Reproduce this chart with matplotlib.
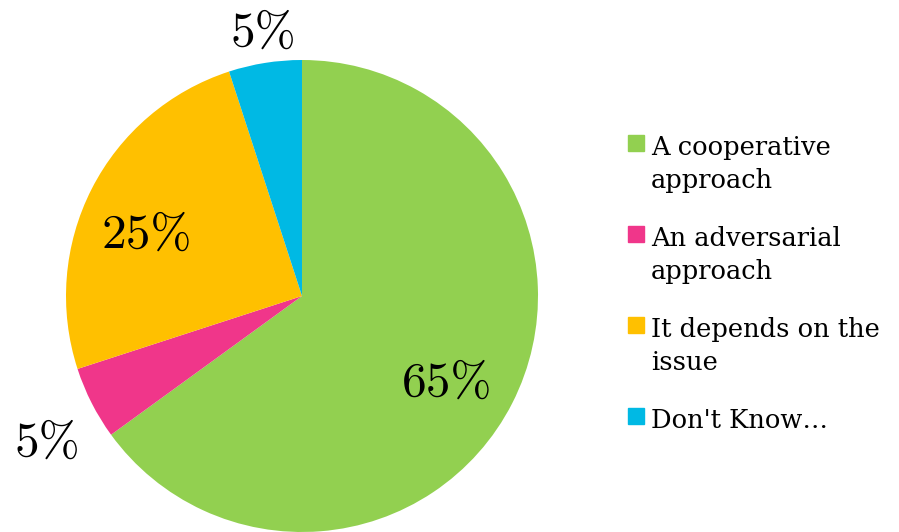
import numpy as np
import matplotlib.pyplot as plt
from matplotlib.patches import Rectangle

# survey answers, share of respondents (%)
labels = ['A cooperative\napproach', 'An adversarial\napproach',
          'It depends on the\nissue', "Don't Know\u2026"]
values = [65, 5, 25, 5]
colors = ['#92D050', '#F0368A', '#FFC000', '#00B9E4']
# where each percentage sits: distance from centre (fraction of radius)
# and a small angular nudge from the wedge's mid angle (degrees)
label_r = [0.71, 1.24, 0.71, 1.14]
label_da = [-3, 2.5, 4.5, -0.7]

fig = plt.figure(figsize=(8.99, 5.32), dpi=100)
W, H = 899, 532
cx, cy, R = 302, 296, 236
ax = fig.add_axes([(cx - R) / W, (H - cy - R) / H, 2 * R / W, 2 * R / H])

wedges, _ = ax.pie(values, colors=colors, startangle=90, counterclock=False,
                   radius=1, wedgeprops=dict(linewidth=0))
ax.set_xlim(-1, 1)
ax.set_ylim(-1, 1)
ax.set_aspect('equal')
ax.axis('off')

# percentage labels, centred on the digits (baseline dropped by half digit height)
half_digit = 16 / R
for w, v, r, da in zip(wedges, values, label_r, label_da):
    ang = np.deg2rad((w.theta1 + w.theta2) / 2 + da)
    ax.text(r * np.cos(ang), r * np.sin(ang) - half_digit, '%d%%' % v,
            ha='center', va='baseline', fontsize=35.5, family='cmr10',
            clip_on=False)

# legend drawn by hand: square swatch + two-line text
top0, step = 135, 91
for i, (lab, col) in enumerate(zip(labels, colors)):
    y = top0 + i * step
    fig.patches.append(Rectangle((628 / W, 1 - (y + 16) / H), 16 / W, 16 / H,
                                 color=col, transform=fig.transFigure))
    fig.text(651 / W, 1 - y / H, lab, ha='left', va='top',
             fontsize=18.5, family='DejaVu Serif', linespacing=1.4)

fig.savefig('out.png', dpi=100)
